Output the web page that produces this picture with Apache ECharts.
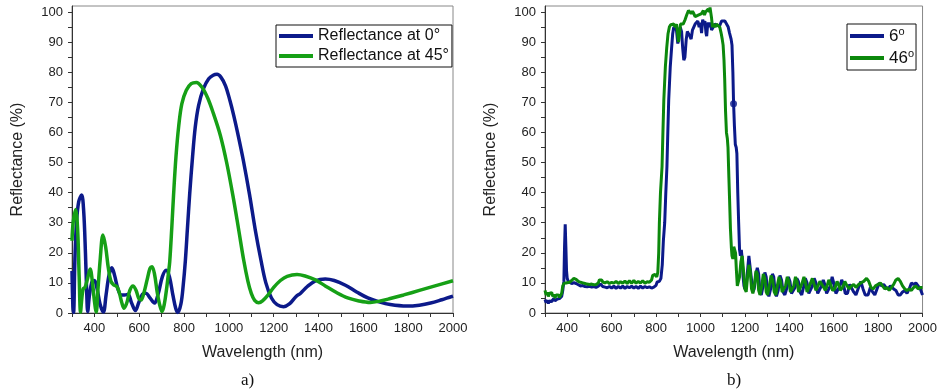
<!DOCTYPE html>
<html>
<head>
<meta charset="utf-8">
<script src="https://cdn.jsdelivr.net/npm/echarts@6/dist/echarts.min.js"></script>
<style>html,body{margin:0;padding:0;background:#fff;}#c{width:940px;height:392px;}</style>
</head>
<body>
<div id="c"></div>
<script>
// ---------- Panel a) : simulated reflectance ----------
const waveA0 = [300,304,307,313,320,330,343,352,360,366,370,378,390,400,412,425,440,452,465,478,490,505,520,535,550,565,583,598,615,630,648,668,685,703,720,735,750,763,772,786,796,806,815,825,838,850,865,887,910,930,947,965,985,1005,1022,1040,1065,1092,1118,1143,1165,1190,1215,1244,1270,1300,1319,1350,1386,1430,1470,1520,1570,1620,1670,1720,1794,1850,1900,1950,2000];
const refA0  = [14,2,0.2,18,30,37,39.2,34,20,6,0.5,6,10.5,10.8,8,3,0.3,6,12.5,15,12.5,8,6,6,6.2,3.5,0.8,3.5,6.3,6.6,5,3.3,6.5,12,14.2,12,6,1.5,0.2,3,9,17.6,28,39.4,52,61.8,69,74.6,77.8,79,79.3,78.3,75.5,70.5,65.5,59.5,50.5,39.4,27.5,17.6,10,5,2.8,2.1,3,5.5,6.5,8.8,10.7,11.3,10.8,9.2,7,5,3.7,2.8,2.3,2.6,3.3,4.4,5.6];
const waveA45 = [300,305,316,325,332,338,344,350,358,368,381,390,400,408,416,426,438,450,462,474,486,500,512,522,532,545,558,572,586,598,608,620,635,648,657,668,680,692,702,712,722,730,736,745,753,764,776,790,810,832,855,880,905,930,962,990,1018,1043,1066,1085,1100,1115,1133,1150,1175,1200,1230,1260,1304,1340,1386,1430,1480,1530,1580,1631,1676,1720,1780,1850,1920,2000];
const refA45  = [24,30,34.4,28,12,0.3,5,8,8.5,11,14.6,11,4,0.3,8,18,25.9,22,15,10.5,9.3,8.8,6.5,3.5,1.6,3.5,7.5,9,7.5,4.8,4.3,6.5,11,14.8,15.4,13,7,2.5,0.5,3,8,13,17,28,39,52,62,69.5,74,76.2,76.6,75,71.5,66.5,59,50,39,28,17.6,10.5,6.5,4.2,3.4,4,6,8.5,10.8,12.2,12.8,12.3,11,9,6.8,5,4,3.5,4,4.8,6,7.5,9,10.7];

// ---------- Panel b) : measured reflectance ----------
const waveB6 = [300,305,310,315,320,325,330,335,340,345,350,355,360,365,370,375,380,385,388,391,394,397,400,405,410,420,430,440,450,460,470,480,490,500,510,520,530,540,550,555,560,570,580,590,600,610,620,630,640,650,660,670,680,690,700,710,720,730,740,750,760,770,780,790,800,805,815,822,828,833,839,844,849,853,857,864,870,875,880,886,892,898,903,909,915,920,925,930,936,941,946,952,958,964,970,976,982,988,994,1000,1005,1010,1015,1020,1025,1028,1032,1035,1040,1045,1050,1058,1065,1075,1087,1095,1102,1110,1117,1125,1131,1138,1142,1146,1149,1153,1157,1161,1164,1168,1172,1176,1180,1184,1188,1192,1196,1200,1206,1212,1218,1224,1230,1236,1242,1250,1256,1262,1268,1274,1282,1290,1296,1302,1308,1316,1324,1330,1336,1342,1350,1358,1365,1372,1380,1388,1396,1403,1410,1418,1426,1434,1441,1448,1456,1464,1472,1480,1488,1496,1504,1512,1520,1528,1536,1545,1553,1560,1568,1576,1585,1593,1600,1610,1618,1628,1636,1644,1652,1662,1672,1680,1690,1700,1712,1722,1732,1742,1755,1765,1775,1785,1795,1805,1815,1825,1835,1845,1855,1862,1870,1880,1890,1900,1910,1920,1930,1940,1950,1960,1970,1980,1990,2000];
const refB6 = [4.5,3.5,4.2,3.2,4.0,4.6,3.8,4.4,4.9,4.0,3.5,4.6,4.3,4.8,5.0,5.5,7.5,10.5,22,29.5,22,14,11.5,10.5,10.0,9.8,10.1,9.8,9.4,9.0,9.1,8.8,8.7,8.9,8.6,8.8,8.5,8.9,9.6,9.3,8.8,8.6,8.4,8.8,8.3,8.9,8.2,8.8,8.3,8.9,8.2,8.8,8.4,8.9,8.3,8.8,8.2,8.9,8.3,8.8,8.4,8.7,8.3,8.6,9.2,10.3,10.5,11.5,16,24,30,40,48.6,60,70.7,81.8,88,92.8,95,95.6,94,89.5,93,95,93.5,88,84,85,91,93.5,93,92,91,94,95,96,95.5,97,95,96.5,93,97.5,96,97,93,92,95.5,96.5,95,96.5,94,95,96,95.5,95.5,97,97.5,97,96.5,95,93,91,89,80,70,62,56,55,53,40,30,21,19,21,18,12,9,8,9,14,19,18.5,11,7,8,13,15,13,7,6,9,13.5,12,7,5.5,8,13,12,7,5.5,7.5,12.5,11,7,6,8,12,10.5,6.5,6,8.5,11.5,10.5,7,6,8.5,11.5,10,6.5,6,9,11.5,10,6.5,6,9,11,9.5,6.5,6,9,12,10,6.5,6,9,11,9.5,6.5,6.5,9.5,10,7,6,8.5,10.5,8,6,6,8.5,7,6,8,10,9,9.5,8.5,8,9,9.5,8,7.5,6,6,7,7.5,6.5,8,10,9.5,10,9,8,6];
const waveB46 = [300,305,310,315,320,325,330,335,340,345,350,355,360,365,370,375,380,385,390,395,400,410,420,430,440,450,460,470,480,490,500,510,520,530,540,545,550,555,560,570,580,590,600,610,620,630,640,650,660,670,680,690,700,710,720,730,740,750,760,770,780,785,795,803,808,812,815,820,827,831,835,842,848,854,860,866,872,880,886,892,897,901,905,910,916,922,931,938,946,952,958,964,970,976,983,990,998,1005,1013,1018,1023,1030,1035,1040,1043,1047,1050,1054,1060,1066,1072,1080,1087,1093,1098,1102,1106,1109,1113,1117,1121,1124,1128,1131,1135,1139,1142,1146,1150,1154,1158,1162,1166,1170,1176,1182,1188,1194,1200,1206,1212,1218,1224,1230,1236,1244,1250,1256,1262,1268,1276,1283,1290,1296,1302,1310,1318,1325,1332,1339,1346,1354,1361,1368,1375,1383,1391,1398,1405,1412,1420,1428,1435,1442,1450,1458,1466,1473,1480,1488,1496,1504,1512,1520,1528,1538,1546,1555,1562,1570,1578,1586,1595,1605,1615,1622,1630,1640,1650,1660,1670,1680,1690,1700,1712,1722,1735,1748,1758,1768,1778,1788,1800,1810,1820,1830,1840,1850,1860,1870,1880,1890,1900,1910,1920,1930,1940,1950,1960,1970,1980,1990,2000];
const refB46 = [7.5,6.0,6.8,5.5,6.5,6.0,6.8,5.5,6.2,5.0,6.0,5.5,6.0,5.2,5.8,6.5,9.0,9.8,9.5,10.0,9.8,10.2,10.8,11.5,11.2,10.5,10.2,10.0,9.8,9.6,9.5,9.6,9.4,9.5,10.0,11.0,11.5,11.0,10.3,10.0,10.4,9.8,10.2,9.9,10.5,9.8,10.4,9.9,10.6,9.8,10.7,9.9,10.8,9.9,10.5,10.0,10.7,9.9,10.4,10.2,11.0,12.5,12.8,12.0,13.5,20,30,40,48.6,60,70.7,81.8,88,92.8,95,95.8,96.2,96,95,96,93,90,92,96,96.5,96,97.5,99,100.5,100,99.5,100.3,99.5,98.5,98,99,98.5,99.5,100.5,99,100,100.5,101,100,101.5,102,98,95,96,95,96,95.5,95,93,91,89,84,78,67,60,58,55,45,38,28,22,19,18,22,22.5,20,14,9,8.5,12,17,19,14,8,7,12,16,14,8,6.5,10,14,13,7.5,6,9,13,11.5,7,6,9,12.5,11,7,6,9,12,10.5,7,6.5,9,12,10.5,7,6.5,9,12,10.5,7,7,10,12,10,7,7,10,11.5,9.5,7.5,8,10.5,11,8.5,7.5,9,11,9.5,7.5,8,10.5,9.5,7.5,8.5,10.5,9,8,9,9.5,8.5,9.5,10,10.5,11.5,10.5,8.5,8,9,9.5,10,9,8,8.5,7.5,8.5,9.5,11,11.5,10.5,9,8,7.5,8,7.5,8.5,9,8,8.5,8.5];
const dotB = [[1149, 69.5]];

// ---------- ticks / labels ----------
const xLabelVals = [400,600,800,1000,1200,1400,1600,1800,2000];
const xTickVals = [300,400,500,600,700,800,900,1000,1100,1200,1300,1400,1500,1600,1700,1800,1900,2000];
const yLabelVals = [0,10,20,30,40,50,60,70,80,90,100];
const yTickVals = [0,5,10,15,20,25,30,35,40,45,50,55,60,65,70,75,80,85,90,95,100];

const namesA = ['Reflectance at 0°', 'Reflectance at 45°'];
const namesB = ['6', '46'];

const zip = (xs, ys) => xs.map((x, i) => [x, ys[i]]);

const FONT = "'Liberation Sans', Arial, sans-serif";
const BLUE = '#0c1a8a';
const GREEN_A = '#16a016';
const GREEN_B = '#0c880c';

function xAxis(idx) {
  return {
    type: 'value', gridIndex: idx, min: 300, max: 2000,
    name: 'Wavelength (nm)', nameLocation: 'middle', nameGap: 32,
    nameTextStyle: { fontFamily: FONT, fontSize: 16, color: '#222' },
    axisLine: { show: true, onZero: false, lineStyle: { color: '#333', width: 1 } },
    axisTick: { show: true, inside: false, length: 4, customValues: xTickVals, lineStyle: { color: '#333' } },
    axisLabel: { customValues: xLabelVals, formatter: v => String(v), margin: 9, fontFamily: FONT, fontSize: 13, color: '#222' },
    splitLine: { show: false }
  };
}
function yAxis(idx) {
  return {
    type: 'value', gridIndex: idx, min: 0, max: 102,
    name: 'Reflectance (%)', nameLocation: 'middle', nameGap: 46, nameRotate: 90,
    nameTextStyle: { fontFamily: FONT, fontSize: 16, color: '#222' },
    axisLine: { show: true, onZero: false, lineStyle: { color: '#333', width: 1 } },
    axisTick: { show: true, inside: false, length: 4, customValues: yTickVals, lineStyle: { color: '#333' } },
    axisLabel: { customValues: yLabelVals, formatter: v => String(v), margin: 9, fontFamily: FONT, fontSize: 13, color: '#222' },
    splitLine: { show: false }
  };
}

const chart = echarts.init(document.getElementById('c'), null, { renderer: 'canvas' });
chart.setOption({
  animation: false,
  backgroundColor: '#fff',
  title: [
    { text: 'a)', left: 236, top: 367, textStyle: { fontFamily: "'Liberation Serif', 'Times New Roman', serif", fontSize: 17, fontWeight: 'normal', color: '#111' } },
    { text: 'b)', left: 722, top: 367, textStyle: { fontFamily: "'Liberation Serif', 'Times New Roman', serif", fontSize: 17, fontWeight: 'normal', color: '#111' } }
  ],
  grid: [
    { left: 72, right: 487, top: 6, bottom: 79, show: true, borderColor: '#888', borderWidth: 1, containLabel: false },
    { left: 545, right: 13, top: 6, bottom: 79, show: true, borderColor: '#888', borderWidth: 1, containLabel: false }
  ],
  xAxis: [xAxis(0), xAxis(1)],
  yAxis: [yAxis(0), yAxis(1)],
  legend: [
    {
      data: namesA, left: 276, top: 25, orient: 'vertical',
      backgroundColor: '#fff', borderColor: '#111', borderWidth: 1,
      padding: [2, 3, 2, 3], itemGap: 2, itemWidth: 34, itemHeight: 4, icon: 'rect',
      textStyle: { fontFamily: FONT, fontSize: 16, color: '#111', lineHeight: 18 }
    },
    {
      data: namesB, left: 847, top: 24, orient: 'vertical',
      backgroundColor: '#fff', borderColor: '#111', borderWidth: 1,
      padding: [2, 2, 2, 3], itemGap: 2, itemWidth: 34, itemHeight: 4, icon: 'rect',
      formatter: n => '{n|' + n + '}{s|o}',
      textStyle: { fontFamily: FONT, fontSize: 17, color: '#111', lineHeight: 20,
        rich: { n: { fontFamily: FONT, fontSize: 17, color: '#111' }, s: { fontFamily: FONT, fontSize: 11, color: '#111', verticalAlign: 'top', padding: [0, 0, 6, 0] } } }
    }
  ],
  series: [
    { name: namesA[0], type: 'line', xAxisIndex: 0, yAxisIndex: 0, data: zip(waveA0, refA0), smooth: 0.35, showSymbol: false, lineStyle: { color: BLUE, width: 3.5 }, itemStyle: { color: BLUE } },
    { name: namesA[1], type: 'line', xAxisIndex: 0, yAxisIndex: 0, data: zip(waveA45, refA45), smooth: 0.35, showSymbol: false, lineStyle: { color: GREEN_A, width: 3.5 }, itemStyle: { color: GREEN_A } },
    { name: namesB[0], type: 'line', xAxisIndex: 1, yAxisIndex: 1, data: zip(waveB6, refB6), showSymbol: false, lineStyle: { color: BLUE, width: 3 }, itemStyle: { color: BLUE } },
    { name: namesB[1], type: 'line', xAxisIndex: 1, yAxisIndex: 1, data: zip(waveB46, refB46), showSymbol: false, lineStyle: { color: GREEN_B, width: 3 }, itemStyle: { color: GREEN_B } },
    { name: 'dot', type: 'scatter', xAxisIndex: 1, yAxisIndex: 1, data: dotB, symbolSize: 7, itemStyle: { color: BLUE } }
  ]
});
</script>
</body>
</html>
